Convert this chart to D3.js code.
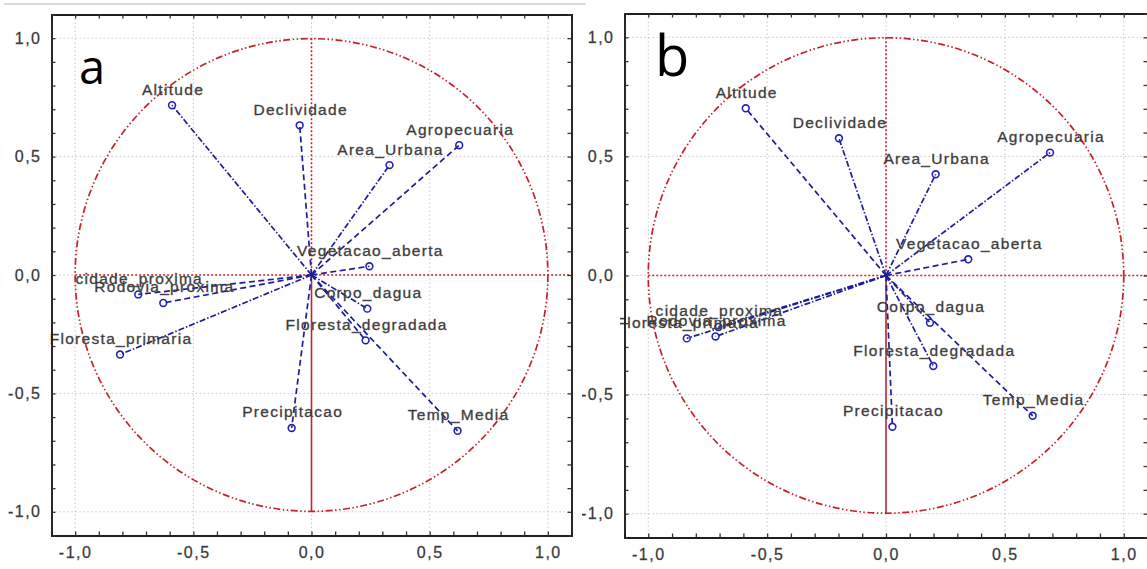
<!DOCTYPE html>
<html>
<head>
<meta charset="utf-8">
<script src="https://cdn.jsdelivr.net/npm/d3@7"></script>
<style>
  body { margin: 0; background: #fff; }
  svg { display: block; }
</style>
</head>
<body>
<script>
// PCA variable projections, two panels (a, b)

//variable names (same order in both panels)
var varNames = ["Altitude", "Declividade", "Agropecuaria", "Area_Urbana", "Vegetacao_aberta", "Corpo_dagua",
    "Floresta_degradada", "Temp_Media", "Precipitacao", "Floresta_primaria", "Rodovia_proxima", "cidade_proxima"];

//panel a coordinates (factor 1, factor 2)
var factor1A = [-0.59, -0.05, 0.625, 0.33, 0.245, 0.236, 0.229, 0.618, -0.084, -0.81, -0.627, -0.733];
var factor2A = [0.717, 0.632, 0.548, 0.464, 0.037, -0.142, -0.276, -0.658, -0.646, -0.336, -0.118, -0.082];

//panel b coordinates
var factor1B = [-0.59, -0.198, 0.69, 0.209, 0.346, 0.185, 0.199, 0.617, 0.027, -0.838, -0.717, -0.705];
var factor2B = [0.702, 0.576, 0.516, 0.425, 0.068, -0.198, -0.38, -0.589, -0.635, -0.264, -0.256, -0.216];

//axis tick values
var majorTicks = [-1, -0.5, 0, 0.5, 1];
var minorTicks = d3.range(-11, 12).map(function(d){ return d / 10; });

//line style of each vector
var styleA = {Altitude: "dashdot", Declividade: "dash", Agropecuaria: "dash", Area_Urbana: "dashdot",
    Vegetacao_aberta: "dash", Corpo_dagua: "dashdot", Floresta_degradada: "dash", Temp_Media: "dash",
    Precipitacao: "dash", Floresta_primaria: "dashdot", Rodovia_proxima: "dash", cidade_proxima: "dash"};
var styleB = {Altitude: "dash", Declividade: "dashdot", Agropecuaria: "dashdot", Area_Urbana: "dashdot",
    Vegetacao_aberta: "dash", Corpo_dagua: "dashdot", Floresta_degradada: "dashdot", Temp_Media: "dash",
    Precipitacao: "dash", Floresta_primaria: "dashdot", Rodovia_proxima: "dashdot", cidade_proxima: "dashdot"};
var dashes = {dash: "6,3.5", dashdot: "6,2,1.5,2"};

var width = 1147, height = 569;

var svg = d3.select("body").append("svg")
    .attr("width", width)
    .attr("height", height);

//comma decimal, plain hyphen minus
var locale = d3.formatLocale({decimal: ",", thousands: ".", grouping: [3], currency: ["", ""], minus: "-"});
var fmt = locale.format(".1f");

var defs = svg.append("defs");

//gray separator on top of panel a
svg.append("line")
    .attr("x1", 4).attr("x2", 586)
    .attr("y1", 4).attr("y2", 4)
    .attr("stroke", "#b5b5b5")
    .attr("stroke-width", 1.2);

drawPanel({
    id: "a", letter: "a", xs: factor1A, ys: factor2A, styles: styleA,
    xRange: [51.5, 571.5], yRange: [535.5, 14.5],
    letterPos: [79, 84], letterSize: 47, clipLeft: 0, axisClipLeft: 0
});

drawPanel({
    id: "b", letter: "b", xs: factor1B, ys: factor2B, styles: styleB,
    xRange: [624.5, 1147.5], yRange: [537.5, 13.5],
    letterPos: [655, 76], letterSize: 56, clipLeft: 620, axisClipLeft: 582
});

function drawPanel(p){
    var x = d3.scaleLinear().domain([-1.1, 1.1]).range(p.xRange);
    var y = d3.scaleLinear().domain([-1.1, 1.1]).range(p.yRange);

    var g = svg.append("g").attr("class", "panel-" + p.id);

    //clip for labels that run past the panel's left side
    defs.append("clipPath").attr("id", "clip-" + p.id)
        .append("rect")
        .attr("x", p.clipLeft).attr("y", 0)
        .attr("width", width - p.clipLeft).attr("height", height);
    defs.append("clipPath").attr("id", "aclip-" + p.id)
        .append("rect")
        .attr("x", p.axisClipLeft).attr("y", 0)
        .attr("width", width - p.axisClipLeft).attr("height", height);

    //light dotted grid at major ticks
    var grid = g.append("g").attr("class", "grid");
    grid.selectAll(".gx").data(majorTicks).enter().append("line")
        .attr("x1", function(d){ return x(d); }).attr("x2", function(d){ return x(d); })
        .attr("y1", y(1.1)).attr("y2", y(-1.1));
    grid.selectAll(".gy").data(majorTicks).enter().append("line")
        .attr("y1", function(d){ return y(d); }).attr("y2", function(d){ return y(d); })
        .attr("x1", x(-1.1)).attr("x2", x(1.1));
    grid.selectAll("line")
        .attr("stroke", "#c8c8c8")
        .attr("stroke-width", 1)
        .attr("stroke-dasharray", "1.5,2.5");

    //unit circle
    g.append("circle")
        .attr("cx", x(0)).attr("cy", y(0))
        .attr("r", x(1) - x(0))
        .attr("fill", "none")
        .attr("stroke", "#c42229")
        .attr("stroke-width", 1.7)
        .attr("stroke-dasharray", "7,2.5,1.5,2.5,1.5,2.5");

    //cross lines through the origin
    g.append("line")
        .attr("x1", x(-1)).attr("x2", x(1.1))
        .attr("y1", y(0)).attr("y2", y(0))
        .attr("stroke", "#c8262c").attr("stroke-width", 1.6)
        .attr("stroke-dasharray", "2,2");
    g.append("line")
        .attr("x1", x(0)).attr("x2", x(0))
        .attr("y1", y(1)).attr("y2", y(0))
        .attr("stroke", "#c8262c").attr("stroke-width", 1.6)
        .attr("stroke-dasharray", "2,2");
    g.append("line")
        .attr("x1", x(0)).attr("x2", x(0))
        .attr("y1", y(0)).attr("y2", y(-1))
        .attr("stroke", "#c0262c").attr("stroke-width", 1.6);

    var pts = varNames.map(function(n, i){ return {name: n, fx: p.xs[i], fy: p.ys[i]}; });

    //vectors from the origin
    g.append("g").selectAll("line").data(pts).enter().append("line")
        .attr("x1", x(0)).attr("y1", y(0))
        .attr("x2", function(d){ return x(d.fx); })
        .attr("y2", function(d){ return y(d.fy); })
        .attr("stroke", "#1d1d9c")
        .attr("stroke-width", 1.7)
        .attr("stroke-dasharray", function(d){ return dashes[p.styles[d.name]]; });

    //open circle markers
    g.append("g").selectAll("circle").data(pts).enter().append("circle")
        .attr("cx", function(d){ return x(d.fx); })
        .attr("cy", function(d){ return y(d.fy); })
        .attr("r", 3.4)
        .attr("fill", "none")
        .attr("stroke", "#2222b4")
        .attr("stroke-width", 1.6);

    //variable labels, centred above the marker
    g.append("g").attr("clip-path", "url(#clip-" + p.id + ")")
        .selectAll("text").data(pts).enter().append("text")
        .attr("x", function(d){ return x(d.fx) + 1; })
        .attr("y", function(d){ return y(d.fy) - 10.5; })
        .attr("text-anchor", "middle")
        .attr("font-family", "'Liberation Sans', Arial, sans-serif")
        .attr("font-size", 15.5)
        .attr("letter-spacing", 1.3)
        .attr("fill", "#333")
        .attr("stroke", "#555")
        .attr("stroke-width", 0.35)
        .text(function(d){ return d.name; });

    //frame with inward minor ticks on all sides
    var frame = g.append("g").attr("class", "frame");
    frame.append("g").attr("transform", "translate(0," + y(-1.1) + ")")
        .call(d3.axisBottom(x).tickValues(minorTicks).tickSize(-4).tickFormat(""));
    frame.append("g").attr("transform", "translate(0," + y(1.1) + ")")
        .call(d3.axisTop(x).tickValues(minorTicks).tickSize(-4).tickFormat(""));
    frame.append("g").attr("transform", "translate(" + x(-1.1) + ",0)")
        .call(d3.axisLeft(y).tickValues(minorTicks).tickSize(-4).tickFormat(""));
    frame.append("g").attr("transform", "translate(" + x(1.1) + ",0)")
        .call(d3.axisRight(y).tickValues(minorTicks).tickSize(-4).tickFormat(""));
    frame.selectAll("path.domain").attr("stroke", "#1e1e1e").attr("stroke-width", 1.9);
    frame.selectAll(".tick line").attr("stroke", "#333").attr("stroke-width", 1.3);

    //tick labels
    var labs = g.append("g").attr("clip-path", "url(#aclip-" + p.id + ")");
    labs.append("g").attr("transform", "translate(0," + y(-1.1) + ")")
        .call(d3.axisBottom(x).tickValues(majorTicks).tickSize(0).tickPadding(11).tickFormat(fmt));
    labs.append("g").attr("transform", "translate(" + x(-1.1) + ",0)")
        .call(d3.axisLeft(y).tickValues(majorTicks).tickSize(0).tickPadding(10).tickFormat(fmt));
    labs.selectAll("path.domain").remove();
    labs.selectAll("text")
        .attr("font-family", "'Liberation Sans', Arial, sans-serif")
        .attr("font-size", 16)
        .attr("letter-spacing", 1.5)
        .attr("fill", "#333")
        .attr("stroke", "#555")
        .attr("stroke-width", 0.3);

    //panel letter
    g.append("text")
        .attr("x", p.letterPos[0]).attr("y", p.letterPos[1])
        .attr("font-family", "'Open Sans', 'Noto Sans', sans-serif")
        .attr("font-size", p.letterSize)
        .attr("fill", "#000")
        .text(p.letter);
};
</script>
</body>
</html>
